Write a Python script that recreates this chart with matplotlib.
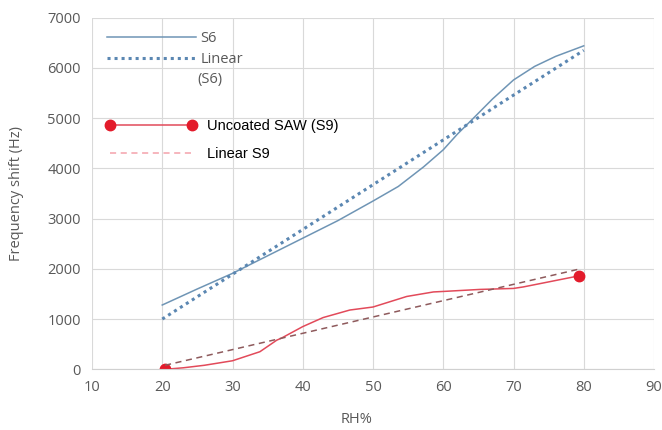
# Frequency shift vs relative humidity (S6 vs uncoated SAW S9)

import matplotlib
matplotlib.use("Agg")
import matplotlib.pyplot as plt
from matplotlib.lines import Line2D

# S6 curve
s6_x = [20, 25, 30, 35, 40, 45, 50, 53.6, 57.2, 60, 62, 64.3, 67, 70, 73,
        76, 80]
s6_y = [1280, 1600, 1910, 2260, 2610, 2960, 3350, 3640, 4030, 4370, 4680,
        5000, 5380, 5760, 6030, 6230, 6440]
# S6 linear trendline end points
s6_lin_x = [20, 80]
s6_lin_y = [1000, 6350]

# Uncoated SAW (S9)
s9_x = [20.4, 23, 26, 30, 33.9, 36.3, 37, 40, 42.9, 46.7, 50, 54.8, 58.6, 60,
        65.2, 70, 71.4, 75, 79.3]
s9_y = [0, 30, 80, 170, 350, 580, 623, 850, 1030, 1180, 1240, 1450, 1540,
        1550, 1590, 1610, 1640, 1740, 1860]
# S9 linear trendline end points
s9_lin_x = [20.4, 79.5]
s9_lin_y = [80, 2000]

x_ticks = [10, 20, 30, 40, 50, 60, 70, 80, 90]
y_ticks = [0, 1000, 2000, 3000, 4000, 5000, 6000, 7000]

gray = "#595959"
blue_solid = "#6f95b5"
blue_dot = "#5b87b2"
red = "#e31b2b"
red_line = "#e24a5a"
red_dash_plot = "#8e5a5c"
red_dash_leg = "#f4a2ab"

fig = plt.figure(figsize=(6.62, 4.30), dpi=100)
ax = fig.add_axes([92 / 662, 1 - 369.3 / 430, 562 / 662, 351.6 / 430])

ax.plot(s6_x, s6_y, color=blue_solid, lw=1.1)
ax.plot(s6_lin_x, s6_lin_y, color=blue_dot, lw=2.2, dashes=(1.0, 1.3))
ax.plot(s9_x, s9_y, color=red_line, lw=1.1, marker="o", markersize=7.5,
        markerfacecolor=red, markeredgecolor=red, markevery=[0, -1])
ax.plot(s9_lin_x, s9_lin_y, color=red_dash_plot, lw=1.1, dashes=(4, 3))

ax.set_xlim(10, 90)
ax.set_ylim(0, 7000)
ax.set_xticks(x_ticks)
ax.set_yticks(y_ticks)
ax.grid(True, color="#d9d9d9", lw=0.8)
ax.set_axisbelow(True)
for side in ["top", "right", "left"]:
    ax.spines[side].set_visible(False)
ax.spines["bottom"].set_color("#d0d0d0")
ax.spines["bottom"].set_linewidth(0.8)
ax.tick_params(length=0, labelsize=10.5, labelcolor=gray, pad=8)
for lab in ax.get_xticklabels() + ax.get_yticklabels():
    lab.set_fontfamily("Open Sans")

ax.set_xlabel("RH%", fontsize=10.5, color=gray, family="Open Sans")
ax.xaxis.set_label_coords((357 - 92) / 562, -0.122)
ax.set_ylabel("Frequency shift (Hz)", fontsize=10.5, color=gray,
              family="Open Sans")
ax.yaxis.set_label_coords((24 - 92) / 562, 0.5)

# legend for S6
h1 = [Line2D([], [], color=blue_solid, lw=1.1),
      Line2D([], [], color=blue_dot, lw=2.2, dashes=(1.0, 1.3))]
leg1 = ax.legend(h1, ["S6", "Linear"], loc="upper left",
                 bbox_to_anchor=((107 - 92) / 562, (369.3 - 31) / 351.6),
                 frameon=False, borderpad=0, borderaxespad=0,
                 handlelength=6.1, handletextpad=0.3, labelspacing=0.42,
                 prop={"family": "Open Sans", "size": 10.5})
for t in leg1.get_texts():
    t.set_color(gray)
ax.add_artist(leg1)
ax.text((197 - 92) / 562, (369.3 - 79) / 351.6, "(S6)", transform=ax.transAxes,
        fontsize=10.5, color=gray, family="Open Sans", va="center")

# legend for S9
h2 = [Line2D([], [], color=red_line, lw=1.1, marker="o", markersize=7.5,
             markerfacecolor=red, markeredgecolor=red),
      Line2D([], [], color=red_dash_leg, lw=1.1, dashes=(4, 3))]
leg2 = ax.legend(h2, ["Uncoated SAW (S9)", "Linear S9"], loc="upper left",
                 bbox_to_anchor=((106 - 92) / 562, (369.3 - 119) / 351.6),
                 frameon=False, borderpad=0, borderaxespad=0, numpoints=2,
                 handlelength=6.2, handletextpad=0.7, labelspacing=0.95,
                 prop={"family": "Liberation Sans", "size": 10.5})

fig.savefig("out.png", dpi=100)
